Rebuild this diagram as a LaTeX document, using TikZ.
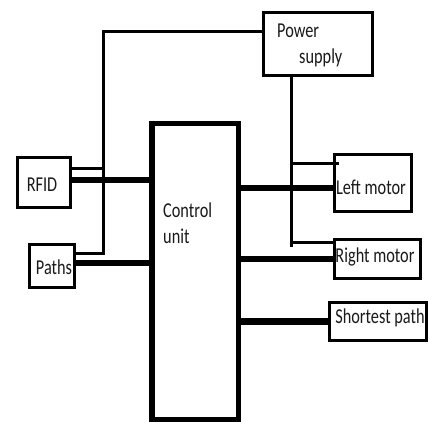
\documentclass[tikz,border=0pt]{standalone}
\usepackage{fontspec}
\setmainfont{Carlito}
\usetikzlibrary{positioning}
\tikzset{
  blk/.style={draw, line width=3pt, inner sep=0pt, outer sep=0pt},
  cubox/.style={draw, line width=5.5pt, inner sep=0pt, outer sep=0pt},
  lbl/.style={inner sep=0pt, font=\fontsize{16.3}{26}\selectfont, text=black!90},
  thinln/.style={line width=3pt},
  thickln/.style={line width=6.5pt},
}
\newcommand{\tall}[1]{\scalebox{1}[1.3]{#1}}
\begin{document}
\begin{tikzpicture}[x=1pt, y=-1pt]
    \useasboundingbox (0,0) rectangle (428,422);
    % blocks
    \node[blk, minimum width=109pt, minimum height=63pt] (ps) at (318,44) {};
    \node[blk, minimum width=53pt, minimum height=50pt] (rfid) at (44,182.5) {};
    \node[blk, minimum width=45pt, minimum height=43pt] (paths) at (52,266) {};
    \node[cubox, minimum width=86.5pt, minimum height=295.5pt] (cu) at (195,271.5) {};
    \node[blk, minimum width=77pt, minimum height=57pt] (lm) at (373,183) {};
    \node[blk, minimum width=86pt, minimum height=39pt] (rm) at (377.5,259) {};
    \node[blk, minimum width=97pt, minimum height=38pt] (sp) at (378,321.5) {};
    % texts
    \node[lbl, align=left, anchor=west] (pstext) at (277,45) {\tall{Power}\\\hspace*{22pt}\tall{supply}};
    \node[lbl] (rfidtext) at (42,185) {\tall{RFID}};
    \node[lbl] (pathstext) at (54,267) {\tall{Paths}};
    \node[lbl, align=left, anchor=west] (cutext) at (163,223.5) {\tall{Control}\\\tall{unit}};
    \node[lbl] (lmtext) at (371,187) {\tall{Left motor}};
    \node[lbl] (rmtext) at (375,257) {\tall{Right motor}};
    \node[lbl] (sptext) at (380,318) {\tall{Shortest path}};
    % power wiring
    \coordinate (busL) at (103,253);
    \coordinate (busR) at (291,247);
    \draw[thinln] ([yshift=12pt]ps.west) -| (busL) -- (busL -| paths.east);
    \draw[thinln] ([yshift=13.5pt]rfid.east) -- ([yshift=13.5pt]rfid.east -| busL);
    \draw[thinln] (ps.south -| busR) -- (busR);
    \draw[thinln] ([yshift=19pt]lm.west -| busR) -- ([xshift=4pt,yshift=19pt]lm.west);
    \draw[thinln] ([yshift=17pt]rm.west -| busR) -- ([yshift=17pt]rm.west);
    % signal lines to the control unit
    \draw[thickln] ([yshift=2.5pt]rfid.east) -- ([yshift=2.5pt]rfid.east -| cu.west);
    \draw[thickln] ([yshift=3pt]paths.east) -- ([yshift=3pt]paths.east -| cu.west);
    \draw[thickln] ([yshift=-5pt]lm.west -| cu.east) -- ([yshift=-5pt]lm.west);
    \draw[thickln] (rm.west -| cu.east) -- (rm.west);
    \draw[thickln] (sp.west -| cu.east) -- (sp.west);
  \end{tikzpicture}
\end{document}
